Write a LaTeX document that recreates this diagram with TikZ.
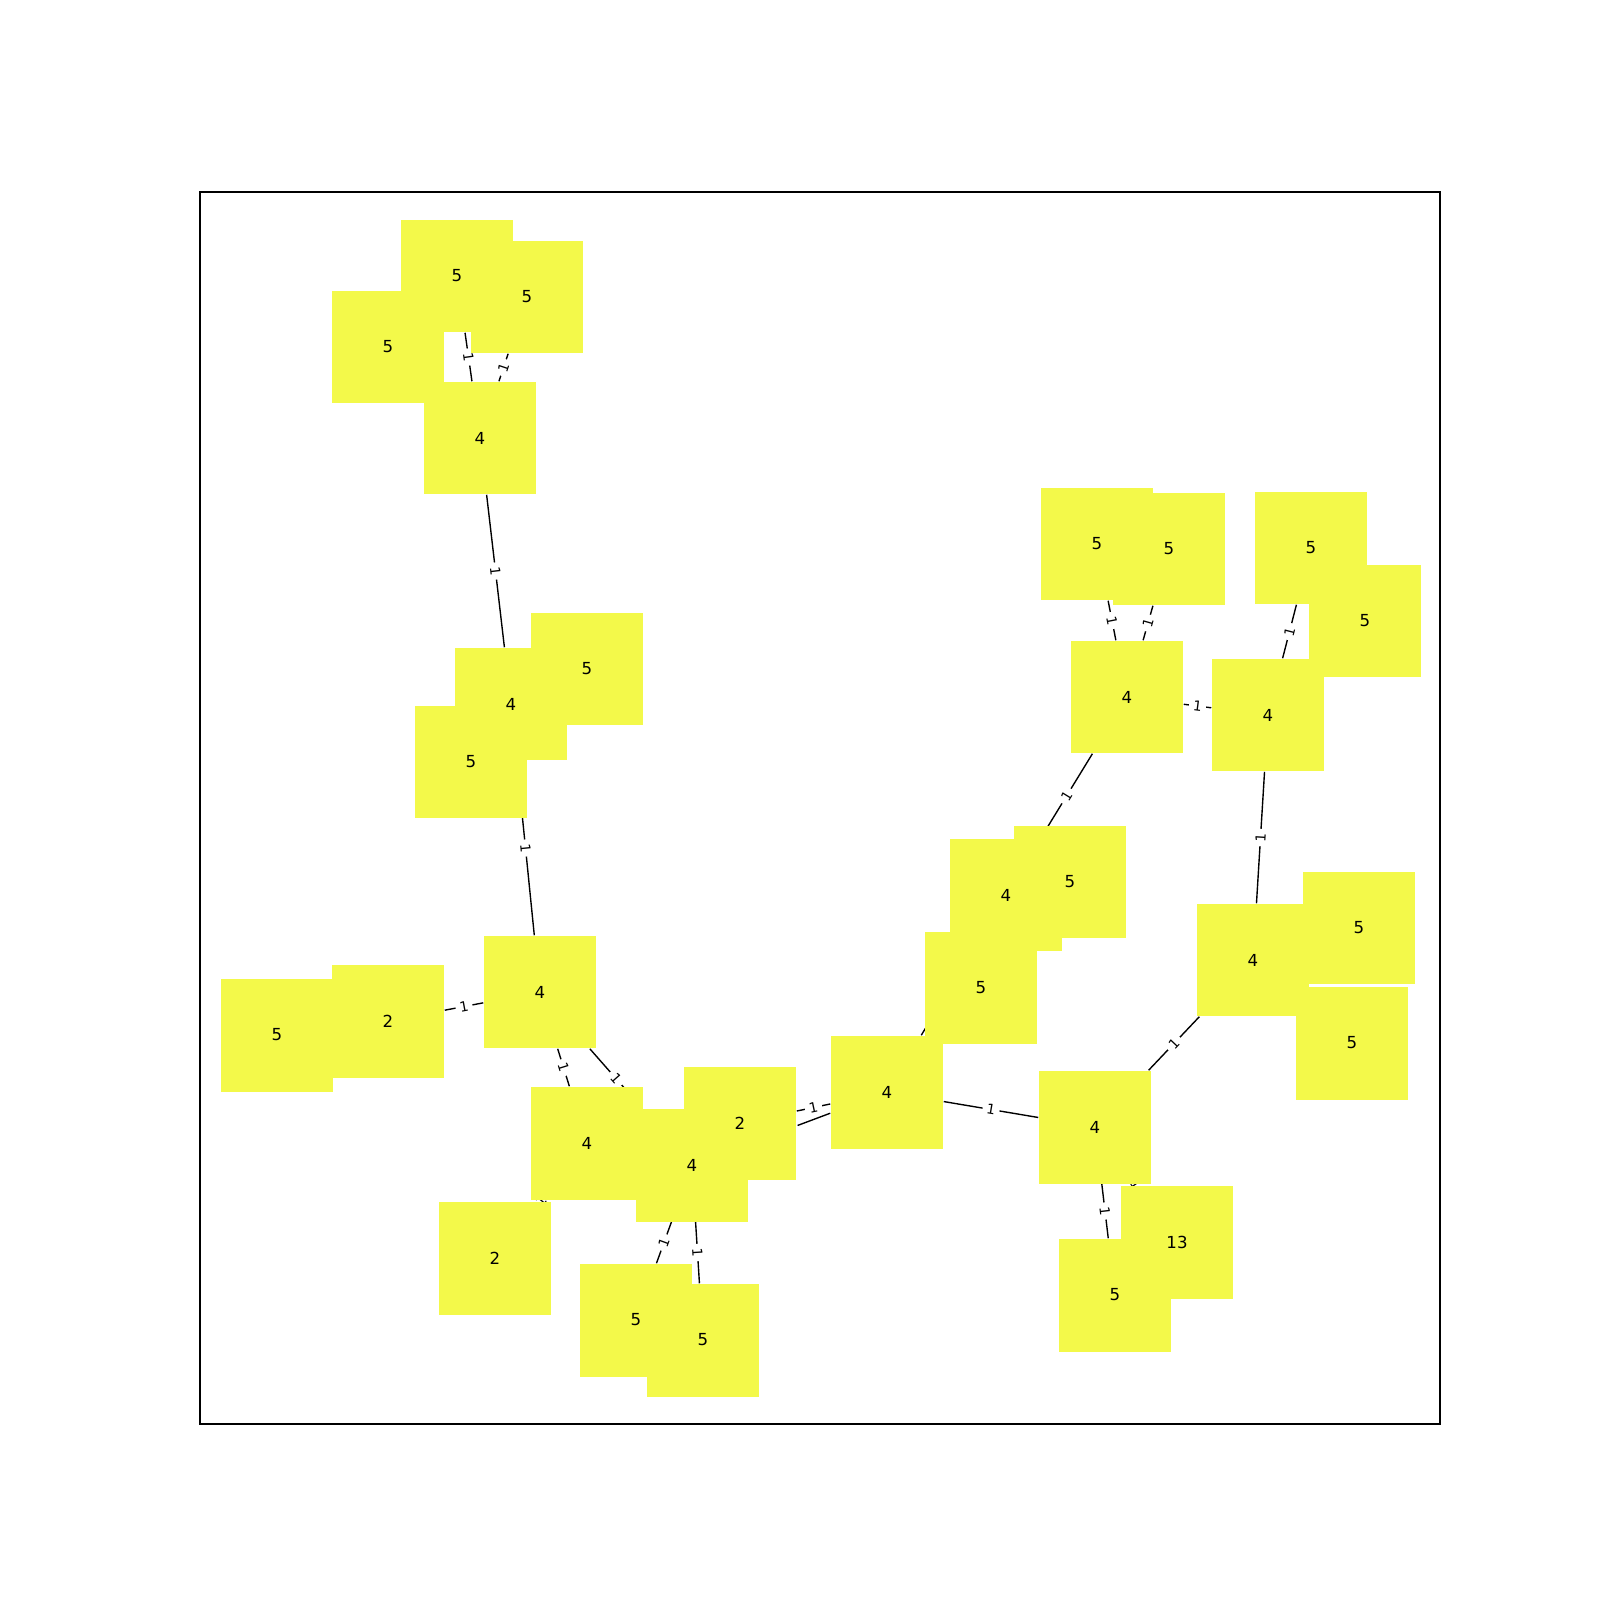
\documentclass[tikz,border=0pt]{standalone}
\usepackage{fontspec}
\setmainfont{DejaVu Sans}
\usetikzlibrary{backgrounds}
\definecolor{nodeyellow}{RGB}{243,249,74}

\begin{document}
\begin{tikzpicture}[x=0.0254cm, y=-0.0254cm,
    atom/.style={fill=nodeyellow, minimum size=2.87cm, inner sep=0pt},
    tag/.style={inner sep=0pt, font=\fontsize{12}{14}\selectfont},
    bond/.style={line width=1pt, black},
    weight/.style={fill=white, inner sep=3pt, rounded corners=3pt, font=\fontsize{10}{12}\selectfont, midway, sloped}]
                \useasboundingbox (0,0) rectangle (1600,1600);

                % Axes frame
                \draw[line width=0.8pt] (200,192) rectangle (1440,1424);

                % Top left group
                \node[atom] (a1) at (457,276) {};
                \node[atom] (a2) at (527,297) {};
                \node[atom] (a3) at (388,347) {};
                \node[atom] (a4) at (480,438) {};
                \node[atom] (b1) at (511,704) {};
                \node[atom] (b2) at (587,669) {};
                \node[atom] (b3) at (471,762) {};

                % Bottom left group
                \node[atom] (c1) at (540,992) {};
                \node[atom] (c2) at (388,1021) {};
                \node[atom] (c3) at (277,1035) {};
                \node[atom] (d1) at (587,1143) {};
                \node[atom] (d2) at (495,1258) {};
                \node[atom] (e1) at (692,1165) {};
                \node[atom] (e2) at (740,1123) {};
                \node[atom] (e3) at (636,1320) {};
                \node[atom] (e4) at (703,1340) {};

                % Ring on the right
                \node[atom] (f1) at (887,1092) {};
                \node[atom] (g1) at (1006,895) {};
                \node[atom] (g2) at (1070,882) {};
                \node[atom] (g3) at (981,988) {};
                \node[atom] (h1) at (1127,697) {};
                \node[atom] (h2) at (1097,544) {};
                \node[atom] (h3) at (1169,549) {};
                \node[atom] (i1) at (1268,715) {};
                \node[atom] (i2) at (1311,548) {};
                \node[atom] (i3) at (1365,621) {};
                \node[atom] (j1) at (1253,960) {};
                \node[atom] (j2) at (1359,928) {};
                \node[atom] (j3) at (1352,1043) {};
                \node[atom] (k1) at (1095,1127) {};
                \node[atom] (k2) at (1177,1242) {};
                \node[atom] (k3) at (1115,1295) {};

                % Node values, written over all the squares
                \foreach \n/\t in {a1/5, a2/5, a3/5, a4/4, b1/4, b2/5, b3/5,
                    c1/4, c2/2, c3/5, d1/4, d2/2, e1/4, e2/2, e3/5, e4/5,
                    f1/4, g1/4, g2/5, g3/5, h1/4, h2/5, h3/5, i1/4, i2/5, i3/5,
                    j1/4, j2/5, j3/5, k1/4, k2/13, k3/5}
                    \node[tag] at (\n) {\t};

                % Edges with their weights, kept behind the nodes
                \begin{pgfonlayer}{background}
                    \foreach \u/\v in {a4/a1, a4/a2, a4/a3, a4/b1, b1/b2, b1/b3, b1/c1,
                        c1/c2, c2/c3, c1/d1, c1/e1, d1/d2, e1/e3, e1/e4, e1/f1, e2/f1,
                        f1/g1, g1/g2, g1/g3, g1/h1, h1/h2, h1/h3, h1/i1, i1/i2, i1/i3,
                        i1/j1, j1/j2, j1/j3, j1/k1, f1/k1, k1/k2, k1/k3}
                        \draw[bond] (\u) -- (\v) node[weight] {1};
                \end{pgfonlayer}
            \end{tikzpicture}
\end{document}
